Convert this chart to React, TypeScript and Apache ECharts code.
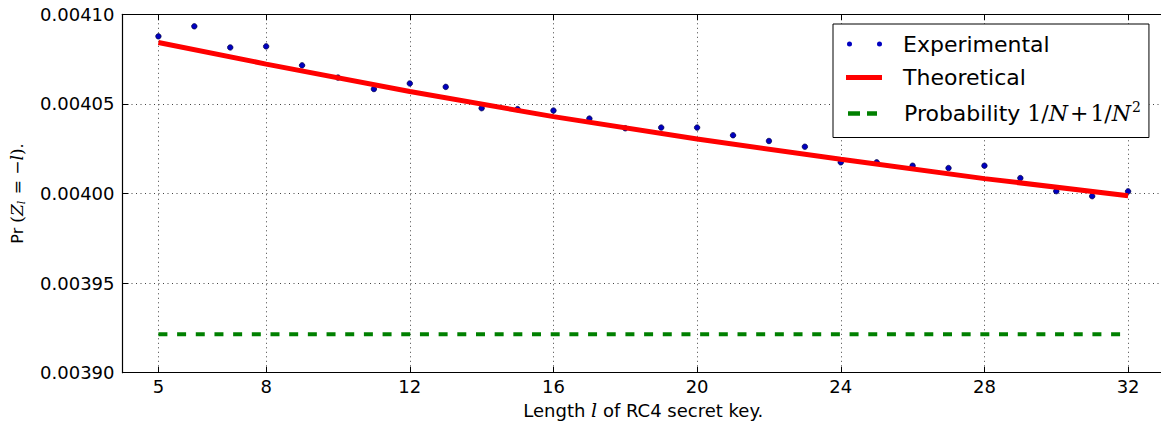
import React, { useEffect, useRef } from "react";
import * as echarts from "echarts";

const keyLengths = [5, 6, 7, 8, 9, 10, 11, 12, 13, 14, 15, 16, 17, 18, 19, 20, 21, 22, 23, 24, 25, 26, 27, 28, 29, 30, 31, 32];
const experimental = [
  0.0040877, 0.0040933, 0.0040815, 0.0040821, 0.0040715, 0.0040647, 0.0040583, 0.0040614,
  0.0040595, 0.0040476, 0.0040471, 0.0040463, 0.0040418, 0.0040364, 0.0040368, 0.0040368,
  0.0040325, 0.0040293, 0.0040261, 0.0040174, 0.0040174, 0.0040155, 0.0040142, 0.0040155,
  0.0040086, 0.0040013, 0.0039985, 0.0040012,
];
const theoreticalX = [5, 8, 12, 16, 20, 24, 28, 32];
const theoretical = [0.0040843, 0.0040722, 0.0040569, 0.0040429, 0.0040304, 0.0040191, 0.0040083, 0.0039988];
const baselineX = [5, 32];
const baseline = [0.0039215, 0.0039215];
const xTicks = [5, 8, 12, 16, 20, 24, 28, 32];
const yTickLabels = ["0.00390", "0.00395", "0.00400", "0.00405", "0.00410"];

const X_MIN = 4;
const X_MAX = 33;
const Y_MIN = 0.0039;
const Y_MAX = 0.0041;
const Y_STEP = 0.00005;

const SANS = "DejaVu Sans";
const MATH = "DejaVu Serif";

export default function App() {
  const ref = useRef<HTMLDivElement>(null);
  useEffect(() => {
    if (!ref.current) return;
    const chart = echarts.init(ref.current, undefined, { renderer: "svg" });
    const gridLine = { show: true, lineStyle: { color: "#444", width: 1, type: [1, 3.5] as any } };
    const option: any = {
      animation: false,
      backgroundColor: "#fff",
      grid: {
        left: 122.5,
        right: -3,
        top: 14.3,
        bottom: 48.3,
        containLabel: false,
        outerBoundsMode: "none",
      },
      legend: {
        left: 833,
        top: 24,
        orient: "vertical",
        backgroundColor: "#fff",
        borderColor: "#000",
        borderWidth: 1,
        padding: [9, 8, 13, 13],
        itemGap: 11.5,
        itemWidth: 36,
        itemHeight: 14,
        selectedMode: false,
        textStyle: {
          fontFamily: SANS,
          fontSize: 22,
          color: "#000",
          rich: {
            sp: { width: 16, fontSize: 22 },
            t: { fontFamily: SANS, fontSize: 22, color: "#000" },
            sp3: { width: 17, height: 32, fontSize: 22 },
            t3: { fontFamily: SANS, fontSize: 22, color: "#000" },
            r: { fontFamily: MATH, fontSize: 22, color: "#000" },
            i: { fontFamily: MATH, fontStyle: "italic", fontSize: 22, color: "#000" },
            op: { fontFamily: MATH, fontSize: 22, color: "#000", padding: [0, 2, 0, 2] },
            sup: { fontFamily: MATH, fontSize: 14, color: "#000", padding: [0, 0, 13, 1] },
          },
        },
        formatter: (name: string) => {
          if (name === "Probability") return "{sp3| }{t3|Probability }{r|1/}{i|N}{op|+}{r|1/}{i|N}{sup|2}";
          return "{sp| }{t|" + name + "}";
        },
        data: [
          {
            name: "Experimental",
            icon: "path://M0,0M1,2.5a2.5,2.5 0 1,0 5,0a2.5,2.5 0 1,0 -5,0M31,2.5a2.5,2.5 0 1,0 5,0a2.5,2.5 0 1,0 -5,0M36,5",
            itemStyle: { color: "#0000c0", borderWidth: 0 },
          },
          {
            name: "Theoretical",
            icon: "path://M0,0L36,0L36,5L0,5Z",
            itemStyle: { color: "#ff0000", borderWidth: 0 },
          },
          {
            name: "Probability",
            icon: "path://M0,0M2,0h12v4.5h-12zM21,0h10v4.5h-10zM36,4.5",
            itemStyle: { color: "#008000", borderWidth: 0 },
          },
        ],
      },
      xAxis: [
        {
          type: "value",
          min: X_MIN,
          max: X_MAX,
          position: "bottom",
          name: "Length {i|l} of RC4 secret key.",
          nameLocation: "middle",
          nameGap: 26,
          nameTextStyle: {
            fontFamily: SANS,
            fontSize: 18,
            color: "#000",
            rich: { i: { fontFamily: MATH, fontStyle: "italic", fontSize: 19, color: "#000" } },
          },
          axisLine: { show: true, lineStyle: { color: "#000", width: 1.2 } },
          axisTick: { show: true, inside: true, length: 6, customValues: xTicks, lineStyle: { color: "#000" } },
          axisLabel: {
            customValues: xTicks,
            fontFamily: SANS,
            fontSize: 18,
            color: "#000",
            margin: 5,
          },
          splitLine: gridLine,
        },
        {
          type: "value",
          min: X_MIN,
          max: X_MAX,
          position: "top",
          axisLine: { show: true, lineStyle: { color: "#000", width: 1.2 } },
          axisTick: { show: true, inside: true, length: 6, customValues: xTicks, lineStyle: { color: "#000" } },
          axisLabel: { show: false },
          splitLine: { show: false },
        },
      ],
      yAxis: {
        type: "value",
        min: Y_MIN,
        max: Y_MAX,
        interval: Y_STEP,
        name: "Pr {r|(}{i|Z}{sub|l}{r| = −}{i|l}{r|)}.",
        nameLocation: "middle",
        nameGap: 96,
        nameTextStyle: {
          fontFamily: SANS,
          fontSize: 16,
          color: "#000",
          rich: {
            r: { fontFamily: MATH, fontSize: 17, color: "#000" },
            i: { fontFamily: MATH, fontStyle: "italic", fontSize: 17, color: "#000" },
            sub: { fontFamily: MATH, fontStyle: "italic", fontSize: 11, color: "#000", padding: [8, 1, 0, 0] },
          },
        },
        axisLine: { show: true, lineStyle: { color: "#000", width: 1.2 } },
        axisTick: { show: true, inside: true, length: 6, lineStyle: { color: "#000" } },
        axisLabel: {
          fontFamily: SANS,
          fontSize: 18,
          color: "#000",
          margin: 8,
          formatter: (v: number) => {
            const idx = Math.round((v - Y_MIN) / Y_STEP);
            return yTickLabels[idx] ?? v.toFixed(5);
          },
        },
        splitLine: gridLine,
      },
      series: [
        {
          name: "Experimental",
          type: "scatter",
          data: keyLengths.map((x, i) => [x, experimental[i]]),
          symbol: "circle",
          symbolSize: 5.5,
          itemStyle: { color: "#0000c0", borderColor: "#000040", borderWidth: 0.7, opacity: 1 },
          z: 3,
        },
        {
          name: "Theoretical",
          type: "line",
          data: theoreticalX.map((x, i) => [x, theoretical[i]]),
          showSymbol: false,
          symbol: "none",
          lineStyle: { color: "#ff0000", width: 5 },
          itemStyle: { color: "#ff0000" },
          z: 4,
        },
        {
          name: "Probability",
          type: "line",
          data: baselineX.map((x, i) => [x, baseline[i]]),
          showSymbol: false,
          symbol: "none",
          lineStyle: { color: "#008000", width: 4, type: [9, 9.68] },
          itemStyle: { color: "#008000" },
          z: 4,
        },
      ],
    };
    chart.setOption(option);
    return () => chart.dispose();
  }, []);
  return (
    <div
      ref={ref}
      style={{ position: "absolute", left: 0, top: 0, width: 1161, height: 421, background: "#fff" }}
    />
  );
}
